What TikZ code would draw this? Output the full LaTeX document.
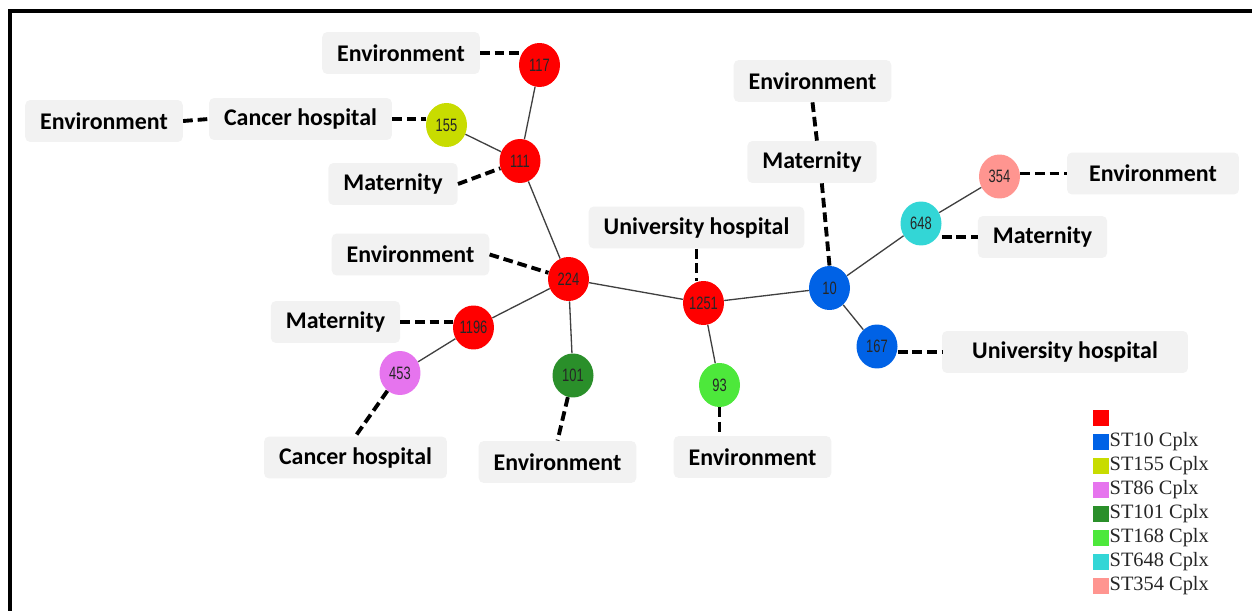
\documentclass[tikz,border=0pt]{standalone}
\usepackage{fontspec}
\setmainfont{Carlito}
\newfontfamily\numfont[FakeStretch=0.72]{Liberation Sans}
\newfontfamily\legfont{Liberation Serif}
\usetikzlibrary{shapes.geometric}

\definecolor{cred}{HTML}{FF0000}
\definecolor{c10}{HTML}{0062E6}
\definecolor{c155}{HTML}{C8DC00}
\definecolor{c86}{HTML}{E674EE}
\definecolor{c101}{HTML}{2A8F2A}
\definecolor{c168}{HTML}{4DE83B}
\definecolor{c648}{HTML}{33D6D6}
\definecolor{c354}{HTML}{FF9590}
\definecolor{boxgray}{HTML}{F2F2F2}
\definecolor{linkgray}{HTML}{404040}

\tikzset{
  stnode/.style={ellipse, fill=#1, minimum width=0.82cm, minimum height=0.88cm, inner sep=0pt, text=black!85, font=\numfont\fontsize{10.2}{11}\selectfont},
  place/.style={fill=boxgray, rounded corners=0.1cm, minimum height=0.84cm, inner xsep=0.3cm, font=\fontsize{13.6}{15}\selectfont\bfseries},
  link/.style={draw=linkgray, line width=0.75pt},
  hit/.style={line width=2.2pt, dash pattern=on 5.5pt off 2.8pt},
  legbox/.style={fill=#1, minimum size=0.32cm, inner sep=0pt},
  legtext/.style={anchor=west, inner sep=0pt, text=black!85, font=\legfont\fontsize{11.6}{12}\selectfont}
}

\begin{document}
\begin{tikzpicture}[x=0.02cm, y=-0.02cm]

\useasboundingbox (0,0) rectangle (1252,611);
\draw[line width=1.9pt] (1300,11) -- (10,11) -- (10,650);

% sequence types
\node[stnode=cred] (v117) at (539.5,65) {117};
\node[stnode=c155] (v155) at (446.5,125) {155};
\node[stnode=cred] (v111) at (520,161) {111};
\node[stnode=cred] (v224) at (568.5,279) {224};
\node[stnode=cred] (v1196) at (473.5,327.5) {1196};
\node[stnode=c86] (v453) at (400,373) {453};
\node[stnode=c101] (v101) at (573,375.5) {101};
\node[stnode=cred] (v1251) at (703.5,303) {1251};
\node[stnode=c168] (v93) at (719.5,385) {93};
\node[stnode=c10] (v10) at (829.5,288) {10};
\node[stnode=c648] (v648) at (921,223.5) {648};
\node[stnode=c354] (v354) at (999.5,176.5) {354};
\node[stnode=c10] (v167) at (877,346.5) {167};

% sources
\node[place] (b1) at (401,53) {Environment};
\node[place] (b2) at (104,121) {Environment};
\node[place] (b3) at (300.5,119) {Cancer hospital};
\node[place] (b4) at (393,184) {Maternity};
\node[place] (b5) at (410.5,254.5) {Environment};
\node[place] (b6) at (335.5,322) {Maternity};
\node[place] (b7) at (355.5,457.5) {Cancer hospital};
\node[place] (b8) at (557.5,462) {Environment};
\node[place] (b9) at (696.5,227.5) {University hospital};
\node[place] (b10) at (752.5,457) {Environment};
\node[place] (b11) at (812.5,81) {Environment};
\node[place] (b12) at (812,162) {Maternity};
\node[place] (b13) at (1042.5,237) {Maternity};
\node[place, minimum width=3.44cm] (b14) at (1153,173.5) {Environment};
\node[place, minimum width=4.92cm] (b15) at (1065,352) {University hospital};

\draw [link] (v117) edge (v111);
\draw [link] (v155) edge (v111);
\draw [link] (v111) edge (v224);
\draw [link] (v224) edge (v1196);
\draw [link] (v1196) edge (v453);
\draw [link] (v224) edge (v101);
\draw [link] (v224) edge (v1251);
\draw [link] (v1251) edge (v93);
\draw [link] (v1251) edge (v10);
\draw [link] (v10) edge (v648);
\draw [link] (v648) edge (v354);
\draw [link] (v10) edge (v167);

\draw [hit] (b1.east) -- (b1.east -| v117.west);
\draw [hit] (b2.east) -- (b3.west);
\draw [hit] (b3.east) -- (b3.east -| v155.west);
\draw [hit] (b4.east) -- (v111);
\draw [hit] (b5.east) -- (v224);
\draw [hit] (b6.east) -- (b6.east -| v1196.west);
\draw [hit] (v453) -- (b7.north);
\draw [hit] (v101) -- (b8.north);
\draw [hit] (b9.south) -- (b9.south |- v1251.north);
\draw [hit] (v93.south) -- (v93.south |- b10.north);
\draw [hit] (b11.south) -- ([xshift=2.8pt]b12.north);
\draw [hit] ([xshift=5.6pt]b12.south) -- (v10.north);
\draw [hit] (b13.west -| v648.east) -- (b13.west);
\draw [hit] (b14.west -| v354.east) -- (b14.west);
\draw [hit] (b15.west -| v167.east) -- (b15.west);

% legend
\node[legbox=cred] (g1) at (1101,418) {};
\node[legbox=c10] (g2) at (1101,442) {};
\node[legtext] at (g2.east) {ST10 Cplx};
\node[legbox=c155] (g3) at (1101,466) {};
\node[legtext] at (g3.east) {ST155 Cplx};
\node[legbox=c86] (g4) at (1101,490) {};
\node[legtext] at (g4.east) {ST86 Cplx};
\node[legbox=c101] (g5) at (1101,514) {};
\node[legtext] at (g5.east) {ST101 Cplx};
\node[legbox=c168] (g6) at (1101,538) {};
\node[legtext] at (g6.east) {ST168 Cplx};
\node[legbox=c648] (g7) at (1101,562) {};
\node[legtext] at (g7.east) {ST648 Cplx};
\node[legbox=c354] (g8) at (1101,586) {};
\node[legtext] at (g8.east) {ST354 Cplx};

\end{tikzpicture}
\end{document}
